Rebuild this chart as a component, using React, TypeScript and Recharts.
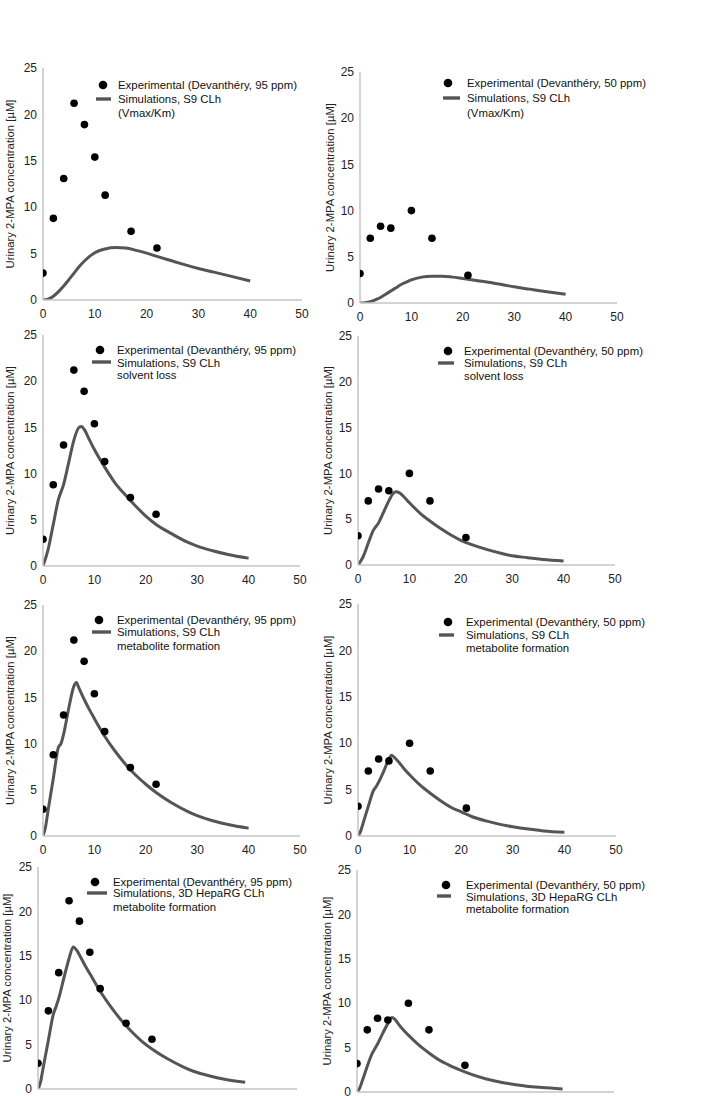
import React from 'react';
import { ComposedChart, Line, Scatter, XAxis, YAxis } from 'recharts';

// ---- tick labels ----
const xTicks = [0, 10, 20, 30, 40, 50];
const yTicks = [0, 5, 10, 15, 20, 25];
const yAxisTitle = 'Urinary 2-MPA concentration [µM]';

// ---- experimental data (Devanthéry) ----
const expTime95 = [0, 2, 4, 6, 8, 10, 12, 17, 22];
const exp95 = [2.9, 8.8, 13.1, 21.2, 18.9, 15.4, 11.3, 7.4, 5.6];
const expTime50 = [0, 2, 4, 6, 10, 14, 21];
const exp50 = [3.2, 7.0, 8.3, 8.1, 10.0, 7.0, 3.0];

// ---- simulations: S9 CLh (Vmax/Km) ----
const simTimeVmax = [0, 1, 2, 3, 4, 5, 6, 7, 8, 9, 10, 12, 14, 16, 18, 20, 22, 25, 28, 30, 33, 36, 40];
const sim95Vmax = [0, 0.1, 0.4, 0.9, 1.5, 2.2, 2.9, 3.6, 4.2, 4.7, 5.1, 5.5, 5.65, 5.6, 5.35, 5.05, 4.7, 4.2, 3.7, 3.4, 3.0, 2.6, 2.05];
const sim50Vmax = [0, 0.04, 0.15, 0.35, 0.6, 0.95, 1.3, 1.65, 2.0, 2.25, 2.5, 2.8, 2.9, 2.9, 2.8, 2.65, 2.5, 2.25, 1.95, 1.75, 1.5, 1.25, 0.95];

// ---- simulations: S9 CLh solvent loss ----
const simTimeSolvent = [0, 1, 2, 3, 4, 5, 6, 7, 7.5, 8, 9, 10, 12, 14, 16, 18, 20, 22, 25, 28, 30, 33, 36, 40];
const sim95Solvent = [0, 1.8, 4.5, 7.2, 8.8, 11.2, 13.6, 15.0, 15.1, 14.8, 13.7, 12.6, 10.7, 9.0, 7.7, 6.5, 5.4, 4.5, 3.5, 2.6, 2.15, 1.65, 1.25, 0.85];
const sim50Solvent = [0, 0.9, 2.4, 3.8, 4.6, 5.8, 7.0, 7.9, 8.0, 7.9, 7.4, 6.8, 5.7, 4.8, 4.0, 3.3, 2.7, 2.25, 1.7, 1.25, 1.0, 0.8, 0.6, 0.45];

// ---- simulations: S9 CLh metabolite formation ----
const simTimeMetab = [0, 0.5, 1, 2, 3, 3.5, 4, 5, 6, 6.5, 7, 8, 9, 10, 12, 14, 16, 18, 20, 22, 25, 28, 30, 33, 36, 40];
const sim95Metab = [0, 1.0, 2.8, 6.2, 9.6, 10.0, 11.0, 13.8, 16.2, 16.6, 16.0, 14.8, 13.7, 12.7, 10.8, 9.2, 7.8, 6.6, 5.6, 4.7, 3.6, 2.7, 2.2, 1.65, 1.25, 0.85];
const sim50Metab = [0, 0.5, 1.4, 3.2, 4.9, 5.3, 5.8, 7.0, 8.3, 8.7, 8.5, 7.9, 7.2, 6.6, 5.5, 4.6, 3.8, 3.1, 2.6, 2.1, 1.6, 1.2, 1.0, 0.75, 0.55, 0.4];

// ---- simulations: 3D HepaRG CLh metabolite formation ----
const simTimeHepa = [0, 0.5, 1, 2, 3, 3.5, 4, 5, 6, 6.8, 7.5, 8, 9, 10, 12, 14, 16, 18, 20, 22, 25, 28, 30, 33, 36, 40];
const sim95Hepa = [0, 0.8, 2.4, 5.5, 8.5, 9.3, 10.2, 12.5, 14.7, 16.0, 15.6, 15.1, 14.0, 13.0, 11.0, 9.3, 7.8, 6.5, 5.4, 4.5, 3.4, 2.5, 2.0, 1.5, 1.1, 0.75];
const sim50Hepa = [0, 0.4, 1.2, 2.9, 4.4, 4.9, 5.4, 6.6, 7.7, 8.4, 8.1, 7.7, 7.0, 6.4, 5.3, 4.4, 3.6, 3.0, 2.5, 2.05, 1.5, 1.1, 0.9, 0.65, 0.5, 0.35];

// ---- legend texts ----
const legend95 = 'Experimental (Devanthéry, 95 ppm)';
const legend50 = 'Experimental (Devanthéry, 50 ppm)';
const simS9 = 'Simulations, S9 CLh';
const simHepa = 'Simulations, 3D HepaRG CLh';

const zip = (xs: number[], ys: number[]) => xs.map((x, i) => ({ x, y: ys[i] }));

const FONT = '"Liberation Sans", Arial, Helvetica, sans-serif';
const LINE_COLOR = '#555555';
const AXIS_COLOR = '#c4c4c4';

type Cfg = {
  axisX: number; y25: number; y0: number; x50: number; showX: boolean; labelDx: number;
  expT: number[]; expV: number[]; simT: number[]; simV: number[];
  texts: string[];
  lg: { cx: number; cy: number; lx1: number; lx2: number; ly: number; tx: number; rows: number[] };
};

const panels: Cfg[] = [
  { axisX: 43, y25: 68, y0: 300, x50: 302, showX: true, labelDx: -11.5, expT: expTime95, expV: exp95, simT: simTimeVmax, simV: sim95Vmax,
    texts: [legend95, simS9, '(Vmax/Km)'], lg: { cx: 60, cy: 17, lx1: 53, lx2: 68, ly: 31, tx: 75, rows: [17, 31, 45] } },
  { axisX: 360, y25: 72, y0: 303, x50: 617, showX: true, labelDx: -8.5, expT: expTime50, expV: exp50, simT: simTimeVmax, simV: sim50Vmax,
    texts: [legend50, simS9, '(Vmax/Km)'], lg: { cx: 88, cy: 11, lx1: 83, lx2: 100, ly: 26, tx: 107, rows: [11, 26, 41] } },
  { axisX: 43, y25: 335, y0: 566, x50: 300, showX: true, labelDx: -11.5, expT: expTime95, expV: exp95, simT: simTimeSolvent, simV: sim95Solvent,
    texts: [legend95, simS9, 'solvent loss'], lg: { cx: 57, cy: 15, lx1: 49, lx2: 68, ly: 27, tx: 74, rows: [15, 28, 40] } },
  { axisX: 358, y25: 336, y0: 565, x50: 615, showX: true, labelDx: -8.5, expT: expTime50, expV: exp50, simT: simTimeSolvent, simV: sim50Solvent,
    texts: [legend50, simS9, 'solvent loss'], lg: { cx: 90, cy: 15, lx1: 80, lx2: 96, ly: 27, tx: 106, rows: [15, 27, 40] } },
  { axisX: 43, y25: 605, y0: 836, x50: 300, showX: true, labelDx: -11.5, expT: expTime95, expV: exp95, simT: simTimeMetab, simV: sim95Metab,
    texts: [legend95, simS9, 'metabolite formation'], lg: { cx: 56, cy: 15, lx1: 49, lx2: 68, ly: 27, tx: 74, rows: [15, 27, 41] } },
  { axisX: 358, y25: 604, y0: 836, x50: 616, showX: true, labelDx: -8.5, expT: expTime50, expV: exp50, simT: simTimeMetab, simV: sim50Metab,
    texts: [legend50, simS9, 'metabolite formation'], lg: { cx: 90, cy: 18, lx1: 81, lx2: 96, ly: 31, tx: 108, rows: [18, 31, 44] } },
  { axisX: 38, y25: 867, y0: 1089, x50: 297, showX: false, labelDx: -9.5, expT: expTime95, expV: exp95, simT: simTimeHepa, simV: sim95Hepa,
    texts: [legend95, simHepa, 'metabolite formation'], lg: { cx: 57, cy: 15, lx1: 49, lx2: 69, ly: 26, tx: 75, rows: [15, 26, 40] } },
  { axisX: 357, y25: 870, y0: 1092, x50: 614, showX: false, labelDx: -8.5, expT: expTime50, expV: exp50, simT: simTimeHepa, simV: sim50Hepa,
    texts: [legend50, simHepa, 'metabolite formation'], lg: { cx: 89, cy: 15, lx1: 80, lx2: 94, ly: 26, tx: 109, rows: [15, 27, 39] } },
];

const Dot = (props: any) => {
  const { cx, cy } = props;
  if (cx == null || cy == null) return null;
  return <circle cx={cx} cy={cy} r={3.8} fill="#000" />;
};

function Panel({ cfg }: { cfg: Cfg }) {
  const ML = 43, MT = 20, MR = 12, XH = 30;
  const pw = cfg.x50 - cfg.axisX;
  const ph = cfg.y0 - cfg.y25;
  const W = ML + pw + MR;
  const H = MT + ph + XH;
  const simData = zip(cfg.simT, cfg.simV);
  const expData = zip(cfg.expT, cfg.expV);
  const lg = cfg.lg;
  return (
    <div style={{ position: 'absolute', left: cfg.axisX - ML, top: cfg.y25 - MT, width: W, height: H }}>
      <ComposedChart width={W} height={H} margin={{ top: MT, right: MR, bottom: 0, left: 0 }}>
        <XAxis
          type="number"
          dataKey="x"
          domain={[0, 50]}
          ticks={xTicks}
          allowDataOverflow
          height={XH}
          tickSize={0}
          tickMargin={9}
          axisLine={{ stroke: AXIS_COLOR, strokeWidth: 1.5 }}
          tickLine={false}
          tick={cfg.showX ? { fill: '#222', fontSize: 12, fontFamily: FONT } : false}
        />
        <YAxis
          type="number"
          domain={[0, 25]}
          ticks={yTicks}
          allowDataOverflow
          width={ML}
          tickSize={0}
          tickMargin={6}
          axisLine={{ stroke: AXIS_COLOR, strokeWidth: 1.5 }}
          tickLine={false}
          tick={{ fill: '#222', fontSize: 12, fontFamily: FONT }}
          label={{ value: yAxisTitle, angle: -90, position: 'center', dx: cfg.labelDx, style: { fontSize: 11.3, fill: '#222', fontFamily: FONT } }}
        />
        <Line data={simData} dataKey="y" type="monotone" stroke={LINE_COLOR} strokeWidth={3} dot={false} activeDot={false} isAnimationActive={false} />
        <Scatter data={expData} dataKey="y" fill="#000" shape={<Dot />} isAnimationActive={false} />
      </ComposedChart>
      <svg
        width={260}
        height={60}
        style={{ position: 'absolute', left: ML, top: MT, overflow: 'visible', pointerEvents: 'none' }}
      >
        <circle cx={lg.cx} cy={lg.cy} r={4.3} fill="#000" />
        <line x1={lg.lx1} x2={lg.lx2} y1={lg.ly} y2={lg.ly} stroke={LINE_COLOR} strokeWidth={3.4} />
        {cfg.texts.map((t, i) => (
          <text key={i} x={lg.tx} y={lg.rows[i]} dy="0.35em" fontSize={11.4} fill="#111" fontFamily={FONT}>
            {t}
          </text>
        ))}
      </svg>
    </div>
  );
}

export default function App() {
  return (
    <div
      style={{
        position: 'absolute',
        left: 0,
        top: 0,
        width: 709,
        height: 1096,
        overflow: 'hidden',
        background: '#fff',
        fontFamily: FONT,
      }}
    >
      {panels.map((p, i) => (
        <Panel key={i} cfg={p} />
      ))}
    </div>
  );
}
